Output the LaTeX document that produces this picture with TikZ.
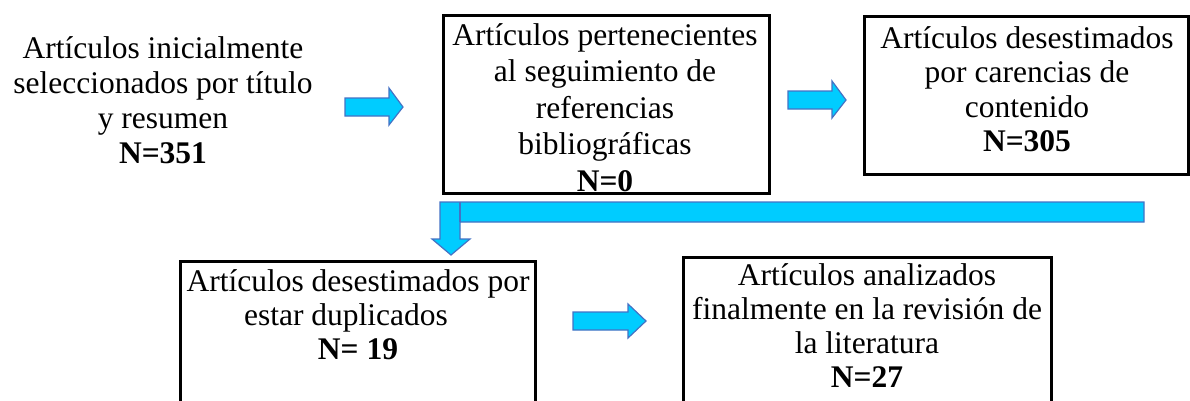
\documentclass[tikz,border=0pt]{standalone}
\usepackage{fontspec}
\setmainfont{Liberation Serif}
\definecolor{arrfill}{RGB}{0,204,255}
\definecolor{arrdraw}{RGB}{68,114,196}
\tikzset{
  box/.style={draw=black, line width=3pt},
  txt/.style={align=center, inner sep=0pt, anchor=north},
  fatarrow/.style={fill=arrfill, draw=arrdraw, line width=1.2pt, line join=miter},
}
\begin{document}
\begin{tikzpicture}[x=1pt,y=-1pt]
\useasboundingbox (0,0) rectangle (1190,400);
% boxes
\node[box, minimum width=326pt, minimum height=178pt, anchor=north west, inner sep=0pt] (b2) at (442,14) {};
\node[box, minimum width=324pt, minimum height=158pt, anchor=north west, inner sep=0pt] (b3) at (863,15) {};
\coordinate (b4a) at (180,412);
\coordinate (b4b) at (180,261);
\coordinate (b4c) at (535,261);
\coordinate (b4d) at (535,412);
\draw[box] (b4a) -- (b4b) -- (b4c) -- (b4d);
\coordinate (b5a) at (683,412);
\coordinate (b5b) at (683,257);
\coordinate (b5c) at (1051,257);
\coordinate (b5d) at (1051,412);
\draw[box] (b5a) -- (b5b) -- (b5c) -- (b5d);
% texts
\node[txt, font=\fontsize{31.5}{35}\selectfont] (t1) at (163,36)
  {Artículos inicialmente\\seleccionados por título\\y resumen\\\textbf{N=351}};
\node[txt, font=\fontsize{31.5}{36.5}\selectfont] (t2) at (605,23)
  {Artículos pertenecientes\\al seguimiento de\\referencias\\bibliográficas\\\textbf{N=0}};
\node[txt, font=\fontsize{31.5}{34.5}\selectfont] (t3) at (1027,26)
  {Artículos desestimados\\por carencias de\\contenido\\\textbf{N=305}};
\node[txt, font=\fontsize{31.5}{34}\selectfont] (t4) at (358,269)
  {Artículos desestimados por\\estar duplicados\rule{24pt}{0pt}\\\textbf{N= 19}};
\node[txt, font=\fontsize{31.5}{34}\selectfont] (t5) at (867,263)
  {Artículos analizados\\finalmente en la revisión de\\la literatura\\\textbf{N=27}};
% block arrows
\draw[fatarrow] (345,98) -- (389,98) -- (389,88) -- (403,107) -- (389,125) -- (389,116) -- (345,116) -- cycle;
\draw[fatarrow] (788,91) -- (832,91) -- (832,81) -- (846,100) -- (832,118) -- (832,109) -- (788,109) -- cycle;
\draw[fatarrow] (573,312) -- (628,312) -- (628,304) -- (646,321) -- (628,338) -- (628,330) -- (573,330) -- cycle;
\draw[fatarrow] (440,202) -- (1144,202) -- (1144,222) -- (460,222) -- (460,239) -- (470,239) -- (451,255) -- (432,239) -- (440,239) -- cycle;
\draw[draw=arrdraw, line width=1.2pt] (460,202) -- (460,222);
\end{tikzpicture}
\end{document}
